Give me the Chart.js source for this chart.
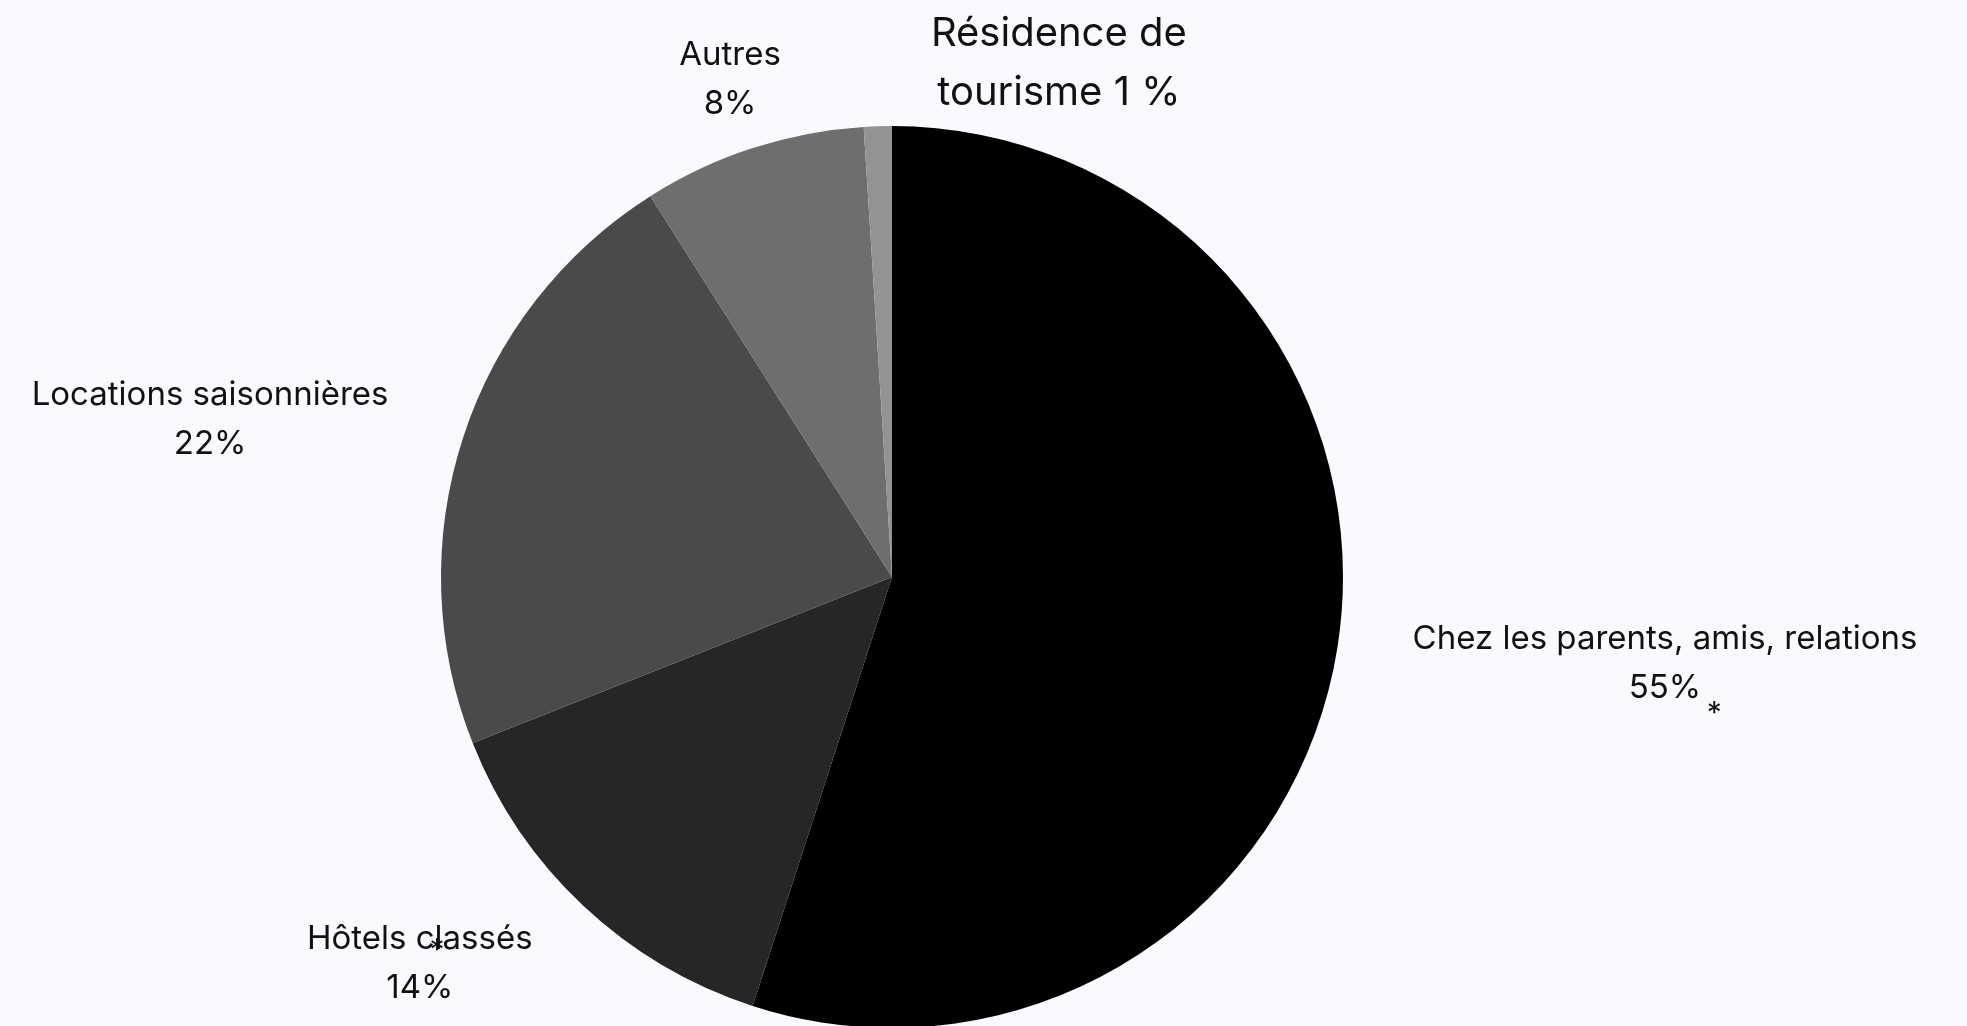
<!DOCTYPE html>
<html>
<head>
<meta charset="utf-8">
<script src="https://cdn.jsdelivr.net/npm/chart.js@4.4.1/dist/chart.umd.min.js"></script>
<style>
  html, body { margin: 0; padding: 0; background: #f9fafd; overflow: hidden; }
  #wrap { position: relative; width: 1967px; height: 1030px; }
</style>
</head>
<body>
<div id="wrap"><canvas id="myChart"></canvas></div>
<script>
// data
let categories = ['Chez les parents, amis, relations', 'Hôtels classés', 'Locations saisonnières', 'Autres', 'Résidence de tourisme'];
let shares = [55, 14, 22, 8, 1];
let shareTexts = ['55%', '14%', '22%', '8%', '1 %'];
let sliceColors = ['#000000', '#262626', '#4a4a4a', '#6e6e6e', '#939393'];

// where each label sits, relative to the pie centre, in pie radii
let labelSpots = [
    [1.714, 0.190],
    [-1.047, 0.857],
    [-1.512, -0.351],
    [-0.359, -1.104],
    [0.370, -1.139]
];
// the two stray asterisks next to some labels
let starSpots = [
    [1.823, 0.290],
    [-1.009, 0.817]
];

var labelPlugin = {
    id: 'pieLabels',
    afterDraw(chart) {
        let ctx = chart.ctx;
        let arc = chart.getDatasetMeta(0).data[0];
        let cx = arc.x, cy = arc.y, r = arc.outerRadius;
        ctx.save();
        ctx.fillStyle = '#111111';
        ctx.textAlign = 'center';
        ctx.textBaseline = 'middle';
        for (let i = 0; i < categories.length; i++) {
            let x = cx + labelSpots[i][0] * r;
            let y = cy + labelSpots[i][1] * r;
            if (i == 4) {
                // this one is bigger and split differently
                ctx.font = '40px Inter';
                ctx.fillText('Résidence de', x, y - 29);
                ctx.fillText('tourisme ' + shareTexts[i], x, y + 30);
            } else {
                ctx.font = '33px Inter';
                ctx.fillText(categories[i], x, y - 24);
                ctx.fillText(shareTexts[i], x, y + 25);
            }
        }
        ctx.font = '30px Inter';
        for (let s of starSpots) {
            ctx.fillText('*', cx + s[0] * r, cy + s[1] * r + 6);
        }
        ctx.restore();
    }
};

var ctx = document.getElementById('myChart').getContext('2d');
var chart = new Chart(ctx, {
    type: 'pie',
    data: {
        labels: categories,
        datasets: [{
            data: shares,
            backgroundColor: sliceColors,
            borderWidth: 0
        }]
    },
    options: {
        responsive: true,
        maintainAspectRatio: false,
        animation: false,
        devicePixelRatio: 1,
        layout: {
            padding: { left: 441, right: 624, top: 126, bottom: 2 }
        },
        plugins: {
            legend: { display: false },
            tooltip: { enabled: false }
        }
    },
    plugins: [labelPlugin]
});
</script>
</body>
</html>
